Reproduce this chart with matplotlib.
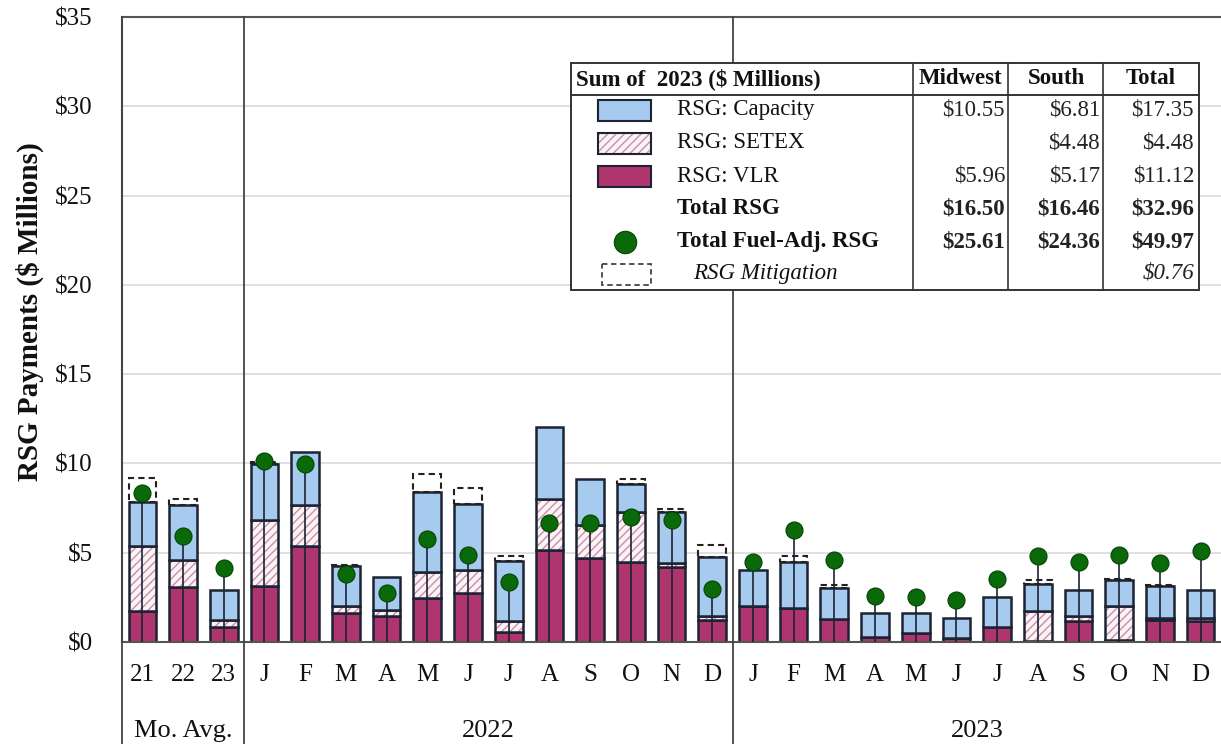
import numpy as np
import matplotlib.pyplot as plt
from matplotlib.patches import Rectangle
import matplotlib.transforms as mtransforms

plt.rcParams['font.family'] = ['Liberation Serif', 'DejaVu Serif']

# categories
labels = ['21', '22', '23', 'J', 'F', 'M', 'A', 'M', 'J', 'J', 'A', 'S', 'O', 'N', 'D',
          'J', 'F', 'M', 'A', 'M', 'J', 'J', 'A', 'S', 'O', 'N', 'D']
groups = ['Mo. Avg.', '2022', '2023']

# stacked components ($ millions)
vlr = [1.76, 3.08, 0.86, 3.15, 5.36, 1.61, 1.43, 2.46, 2.74, 0.58, 5.14, 4.71, 4.46, 4.20, 1.24,
       1.99, 1.89, 1.27, 0.30, 0.52, 0.20, 0.83, 0.05, 1.20, 0.10, 1.24, 1.20]
setex = [3.60, 1.53, 0.38, 3.68, 2.29, 0.42, 0.37, 1.44, 1.31, 0.62, 2.89, 1.87, 2.82, 0.23, 0.19,
         0.00, 0.00, 0.00, 0.00, 0.00, 0.00, 0.00, 1.66, 0.26, 1.93, 0.13, 0.13]
capacity = [2.50, 3.04, 1.65, 3.13, 3.00, 2.25, 1.84, 4.52, 3.70, 3.32, 3.99, 2.54, 1.55, 2.85, 3.34,
            2.02, 2.57, 1.75, 1.31, 1.09, 1.13, 1.68, 1.55, 1.47, 1.46, 1.74, 1.56]
mitigation = [1.31, 0.34, 0.00, 0.10, 0.00, 0.05, 0.00, 0.98, 0.90, 0.32, 0.00, 0.00, 0.32, 0.19, 0.69,
              0.00, 0.34, 0.15, 0.00, 0.00, 0.00, 0.00, 0.19, 0.00, 0.05, 0.08, 0.00]
fuel_adj = [8.37, 5.93, 4.15, 10.15, 9.96, 3.83, 2.74, 5.78, 4.90, 3.36, 6.68, 6.64, 7.02, 6.83, 2.96,
            4.46, 6.27, 4.61, 2.55, 2.50, 2.36, 3.55, 4.80, 4.46, 4.90, 4.43, 5.08]

# summary table
tbl_header = ['Sum of  2023 ($ Millions)', 'Midwest', 'South', 'Total']
tbl_rows = ['RSG: Capacity', 'RSG: SETEX', 'RSG: VLR', 'Total RSG', 'Total Fuel-Adj. RSG', 'RSG Mitigation']
tbl_midwest = ['$10.55', '', '$5.96', '$16.50', '$25.61', '']
tbl_south = ['$6.81', '$4.48', '$5.17', '$16.46', '$24.36', '']
tbl_total = ['$17.35', '$4.48', '$11.12', '$32.96', '$49.97', '$0.76']

blue = '#A7CAEF'
magenta = '#AE356E'
hatch_pink = '#C98FA8'
edge = '#1C2333'
green = '#0A6A0A'
txt = '#111111'

fig = plt.figure(figsize=(12.21, 7.44), dpi=100)
ax = fig.add_axes([122 / 1221, 1 - 642 / 744, 1 - 122 / 1221, (642 - 17) / 744])

x = np.arange(len(labels))
vlr = np.array(vlr)
setex = np.array(setex)
capacity = np.array(capacity)
mitigation = np.array(mitigation)
total = vlr + setex + capacity
w = 0.68

ax.bar(x, vlr, w, color=magenta, edgecolor=edge, linewidth=1.8, zorder=2)
ax.bar(x, setex, w, bottom=vlr, color='#FBF3F6', edgecolor=hatch_pink, hatch='////',
       linewidth=0, zorder=2)
ax.bar(x, setex, w, bottom=vlr, color='none', edgecolor=edge, linewidth=1.8, zorder=2)
ax.bar(x, capacity, w, bottom=vlr + setex, color=blue, edgecolor=edge, linewidth=1.8, zorder=2)
for i in range(len(x)):
    if mitigation[i] > 0:
        ax.bar(x[i], mitigation[i], w, bottom=total[i], color='none', edgecolor='#222222',
               linewidth=1.5, linestyle=(0, (3, 2)), zorder=2)

ax.vlines(x, 0, fuel_adj, color=edge, linewidth=1.2, zorder=3)
ax.scatter(x, fuel_adj, s=150, color=green, edgecolor='#064206', linewidth=0.8, zorder=4)

ax.set_xlim(-0.5, len(labels) - 0.5)
ax.set_ylim(0, 35)
ax.set_yticks(np.arange(0, 36, 5))
ax.set_yticklabels(['$%d' % v for v in range(0, 36, 5)])
ax.set_xticks(x)
ax.set_xticklabels(labels)
ax.tick_params(axis='both', length=0, colors=txt)
ax.tick_params(axis='y', pad=21, labelsize=18)
ax.tick_params(axis='x', pad=16, labelsize=18)
ax.yaxis.grid(True, color='#DADADA', linewidth=1.2, zorder=0)
ax.set_axisbelow(True)
for s in ['left', 'top', 'bottom']:
    ax.spines[s].set_color('#555555')
    ax.spines[s].set_linewidth(1.5)
ax.spines['right'].set_visible(False)
ax.set_ylabel('RSG Payments ($ Millions)', fontsize=21, fontweight='bold', color=txt)
ax.yaxis.set_label_coords(-0.071, 0.528)

trans = mtransforms.blended_transform_factory(ax.transData, ax.transAxes)
for sep in [-0.5, 2.5, 14.5]:
    ax.plot([sep, sep], [1, -0.165], color='#444444', linewidth=1.3, transform=trans,
            clip_on=False, zorder=5)
for gx, g in zip([1, 8.5, 20.5], groups):
    ax.text(gx, -0.152, g, transform=trans, ha='center', va='baseline', fontsize=19, color=txt)

# summary table drawn in pixel space on an overlay
ov = fig.add_axes([0, 0, 1, 1], facecolor='none')
ov.set_xlim(0, 1221)
ov.set_ylim(744, 0)
ov.axis('off')

ov.add_patch(Rectangle((571, 63), 628, 227, facecolor='white', edgecolor='#333333', linewidth=1.4))
ov.plot([571, 1199], [95, 95], color='#333333', linewidth=1.4)
for cx in [913, 1008, 1103]:
    ov.plot([cx, cx], [63, 290], color='#333333', linewidth=1.2)

fs = 16.5
ov.text(576, 79, tbl_header[0], fontsize=fs, fontweight='bold', va='center', ha='left', color=txt)
for cx, h in zip([960, 1056, 1151], tbl_header[1:]):
    ov.text(cx, 79, h, fontsize=fs, fontweight='bold', va='center', ha='center', color=txt)

row_y = [110, 143, 176, 209, 242, 273]
for i, (ry, name) in enumerate(zip(row_y, tbl_rows)):
    weight = 'bold' if i in (3, 4) else 'normal'
    style = 'italic' if i == 5 else 'normal'
    lx = 693 if i == 5 else 677
    ov.text(lx, ry, name, fontsize=fs, fontweight=weight, fontstyle=style, va='center', ha='left',
            color=txt)
    for cx, col in zip([1005, 1100, 1194], [tbl_midwest, tbl_south, tbl_total]):
        ov.text(cx, ry, col[i], fontsize=fs, fontweight=weight, fontstyle=style,
                va='center', ha='right', color='#222222')

ov.add_patch(Rectangle((598, 100), 53, 21, facecolor=blue, edgecolor=edge, linewidth=1.5))
ov.add_patch(Rectangle((598, 133), 53, 21, facecolor='#FBF3F6', edgecolor=hatch_pink,
                       hatch='////', linewidth=0))
ov.add_patch(Rectangle((598, 133), 53, 21, facecolor='none', edgecolor=edge, linewidth=1.5))
ov.add_patch(Rectangle((598, 166), 53, 21, facecolor=magenta, edgecolor=edge, linewidth=1.5))
ov.scatter([625], [242], s=260, color=green, edgecolor='#064206', linewidth=0.8)
ov.add_patch(Rectangle((602, 264), 49, 21, facecolor='none', edgecolor='#444444',
                       linewidth=1.3, linestyle=(0, (3, 2))))

fig.savefig('out.png', dpi=100)
